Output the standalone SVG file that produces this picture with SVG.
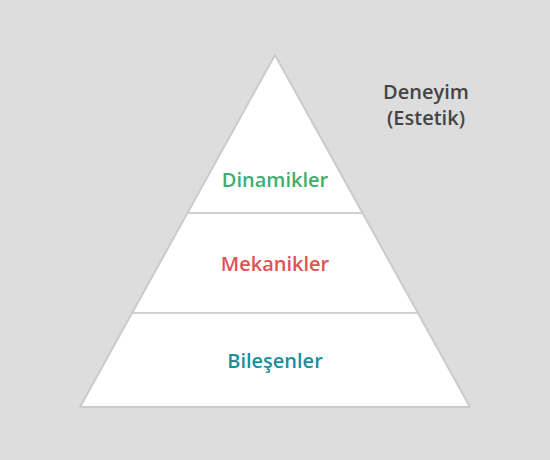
<svg xmlns="http://www.w3.org/2000/svg" width="550" height="460" viewBox="0 0 550 460">
<style>
.lbl{font-family:"Open Sans","Liberation Sans",sans-serif;font-size:20px;font-weight:600;text-anchor:middle}
.tier{fill:#ffffff;stroke:#cbcbcb;stroke-width:2;stroke-linejoin:round}
.div{stroke:#d0d0d0;stroke-width:2}
</style>
<rect width="550" height="460" fill="#dddddd"/>
<g id="pyramid">
<polygon class="tier" points="275,55 470,407 80,407"/>
</g>
<g id="connectors">
<line class="div" x1="188" y1="213" x2="362" y2="213"/>
<line class="div" x1="133" y1="313" x2="417" y2="313"/>
</g>
<g id="dinamikler"><text class="lbl" x="275" y="187" fill="#3fae6e">Dinamikler</text></g>
<g id="mekanikler"><text class="lbl" x="275" y="271" fill="#e05353">Mekanikler</text></g>
<g id="bilesenler"><text class="lbl" x="275" y="368" fill="#1b8f9c">Bileşenler</text></g>
<g id="deneyim"><text class="lbl" x="426" y="99" fill="#444444">Deneyim</text><text class="lbl" x="426" y="125" fill="#444444">(Estetik)</text></g>
</svg>
